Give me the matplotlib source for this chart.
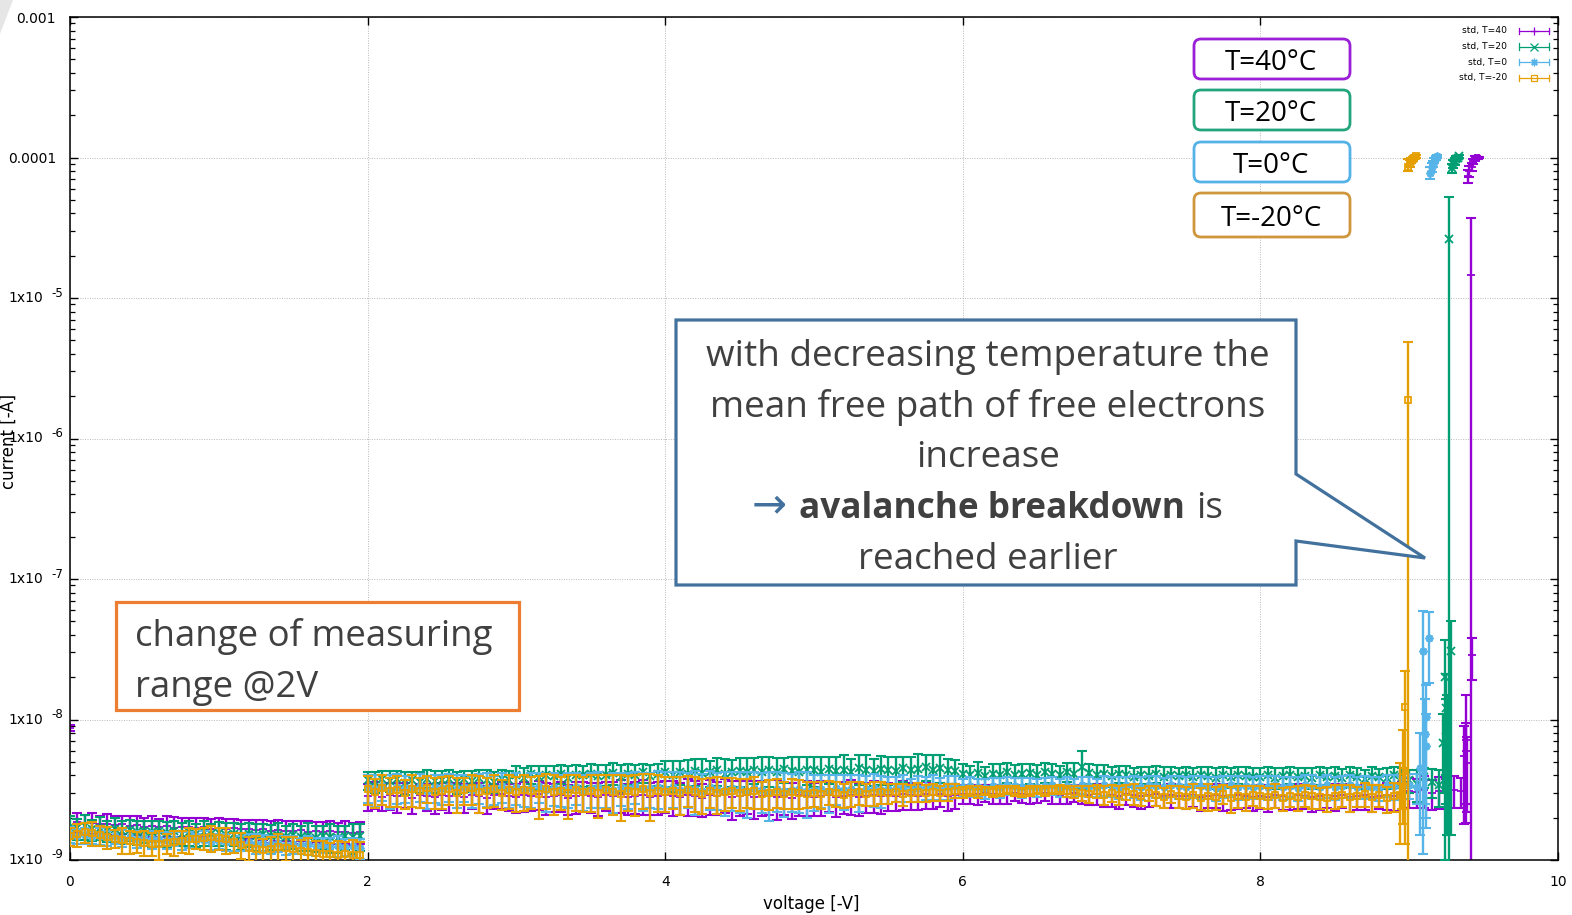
import numpy as np
import matplotlib
matplotlib.use("Agg")
import matplotlib.pyplot as plt
from matplotlib.patches import Polygon, FancyBboxPatch, Rectangle
from matplotlib.transforms import Affine2D, blended_transform_factory, offset_copy
from matplotlib.lines import Line2D
from matplotlib.ticker import FixedLocator, FixedFormatter, LogLocator, NullFormatter

# ---------------------------------------------------------------- data
VOLT_STEP = 0.05          # V, sampling of the plotted points
LOW_START = 0.0           # V, first range (0 - 2 V)
HIGH_START = 2.0          # V, second range (2 V - breakdown)
NANO = 1e-9

# ---- T = 40 C  (currents in nA, symmetric std errors in nA)
T40_LOW = [8.7, 1.86, 1.82, 1.84, 1.79, 1.81, 1.77, 1.80, 1.75, 1.78,
           1.73, 1.76, 1.71, 1.75, 1.70, 1.73, 1.71, 1.69, 1.72, 1.67,
           1.70, 1.66, 1.68, 1.65, 1.67, 1.63, 1.66, 1.61, 1.64, 1.62,
           1.60, 1.63, 1.59, 1.61, 1.58, 1.60, 1.57, 1.59, 1.56, 1.58]
T40_LOW_ERR = [0.4, 0.30, 0.28, 0.32, 0.27, 0.30, 0.29, 0.26, 0.31, 0.28,
               0.27, 0.30, 0.26, 0.29, 0.31, 0.27, 0.28, 0.30, 0.26, 0.29,
               0.28, 0.30, 0.27, 0.29, 0.26, 0.30, 0.27, 0.29, 0.28, 0.26,
               0.29, 0.27, 0.30, 0.26, 0.28, 0.29, 0.27, 0.30, 0.28, 0.29]
T40_HIGH = [2.85, 2.95, 2.8, 2.9, 2.85, 2.95, 2.75, 2.9, 2.85, 2.8,
            2.9, 2.85, 2.95, 2.8, 2.9, 2.85, 2.75, 2.9, 2.95, 2.85,
            2.8, 2.9, 2.85, 2.95, 2.8, 2.85, 2.9, 2.75, 2.85, 2.9,
            2.85, 2.8, 2.9, 2.85, 2.95, 2.8, 2.85, 2.9, 2.8, 2.85,
            2.9, 2.85, 2.8, 2.9, 2.85, 2.75, 2.9, 2.85, 2.95, 2.8,
            2.85, 2.9, 2.8, 2.85, 2.9, 2.8, 2.85, 2.75, 2.9, 2.85,
            2.8, 2.85, 2.9, 2.8, 2.85, 2.9, 2.8, 2.85, 2.9, 2.85,
            2.9, 2.85, 2.95, 2.9, 2.85, 2.95, 2.9, 2.95, 2.85, 2.9,
            2.95, 2.9, 2.95, 3.0, 2.95, 2.9, 2.95, 3.0, 2.95, 2.9,
            2.95, 3.0, 2.95, 2.9, 2.95, 3.0, 2.95, 2.9, 2.95, 2.85,
            2.9, 2.85, 2.95, 2.9, 2.85, 2.9, 2.95, 2.85, 2.9, 2.85,
            2.85, 2.9, 2.8, 2.85, 2.9, 2.85, 2.8, 2.9, 2.85, 2.8,
            2.85, 2.8, 2.9, 2.85, 2.8, 2.9, 2.85, 2.8, 2.85, 2.9,
            2.85, 2.9, 2.8, 2.85, 2.9, 2.8, 2.85, 2.9, 2.85, 2.95,
            3.1, 3.05, 3.15, 3.0, 3.1, 3.05, 3.15, 3.1]
T40_HIGH_ERR = [0.6, 0.65, 0.58, 0.62, 0.68, 0.6, 0.64, 0.56, 0.62, 0.66,
                0.62, 0.68, 0.6, 0.65, 0.58, 0.7, 0.63, 0.6, 0.66, 0.62,
                0.65, 0.7, 0.62, 0.68, 0.72, 0.64, 0.7, 0.66, 0.74, 0.68,
                0.7, 0.75, 0.68, 0.72, 0.78, 0.7, 0.74, 0.8, 0.72, 0.76,
                0.75, 0.8, 0.72, 0.85, 0.78, 0.74, 0.82, 0.76, 0.8, 0.86,
                0.8, 0.76, 0.85, 0.78, 0.82, 0.88, 0.75, 0.8, 0.84, 0.78,
                0.75, 0.8, 0.72, 0.78, 0.74, 0.8, 0.76, 0.7, 0.75, 0.72,
                0.65, 0.6, 0.68, 0.62, 0.58, 0.64, 0.6, 0.56, 0.62, 0.58,
                0.45, 0.4, 0.48, 0.42, 0.45, 0.4, 0.44, 0.38, 0.42, 0.4,
                0.42, 0.38, 0.45, 0.4, 0.43, 0.4, 0.46, 0.42, 0.5, 0.48,
                0.5, 0.55, 0.48, 0.52, 0.56, 0.5, 0.54, 0.5, 0.56, 0.52,
                0.55, 0.5, 0.58, 0.52, 0.56, 0.6, 0.54, 0.58, 0.52, 0.56,
                0.56, 0.6, 0.54, 0.58, 0.52, 0.6, 0.56, 0.62, 0.58, 0.54,
                0.6, 0.56, 0.62, 0.58, 0.64, 0.6, 0.56, 0.62, 0.6, 0.65,
                0.75, 0.7, 0.8, 0.72, 0.78, 0.74, 0.82, 0.76]
T40_BD_V = [9.370, 9.380, 9.385, 9.390, 9.415, 9.420, 9.395, 9.405, 9.420, 9.430, 9.440, 9.450, 9.460, 9.470]
T40_BD_I = [5.5e-9, 6.0e-9, 7.1e-9, 4.9e-9, 1.46e-5, 2.87e-8, 7.4e-5, 8.0e-5, 8.6e-5, 9.4e-5, 9.9e-5, 1.0e-4, 1.0e-4, 1.0e-4]
T40_BD_LO = [1.8e-9, 2.5e-9, 1.83e-9, 2.2e-9, 1e-12, 1.91e-8, 6.6e-5, 7.3e-5, 8.0e-5, 9.0e-5, 9.6e-5, 9.8e-5, 9.8e-5, 9.9e-5]
T40_BD_HI = [9.0e-9, 9.5e-9, 1.49e-8, 7.5e-9, 3.71e-5, 3.78e-8, 8.2e-5, 8.7e-5, 9.2e-5, 9.8e-5, 1.02e-4, 1.02e-4, 1.01e-4, 1.01e-4]

# ---- T = 20 C
T20_LOW = [1.72, 1.68, 1.74, 1.65, 1.70, 1.62, 1.67, 1.60, 1.64, 1.58,
           1.62, 1.57, 1.61, 1.55, 1.60, 1.54, 1.58, 1.52, 1.57, 1.53,
           1.55, 1.50, 1.54, 1.49, 1.53, 1.48, 1.52, 1.47, 1.51, 1.46,
           1.50, 1.45, 1.49, 1.44, 1.48, 1.46, 1.43, 1.47, 1.45, 1.48]
T20_LOW_ERR = [0.32, 0.29, 0.35, 0.28, 0.31, 0.27, 0.33, 0.30, 0.28, 0.31,
               0.29, 0.33, 0.27, 0.31, 0.30, 0.28, 0.32, 0.29, 0.31, 0.27,
               0.30, 0.33, 0.28, 0.31, 0.29, 0.32, 0.27, 0.30, 0.33, 0.28,
               0.31, 0.29, 0.34, 0.30, 0.28, 0.33, 0.31, 0.29, 0.35, 0.32]
T20_HIGH = [3.7, 3.6, 3.8, 3.65, 3.75, 3.55, 3.7, 3.6, 3.8, 3.65,
            3.7, 3.8, 3.6, 3.75, 3.65, 3.85, 3.7, 3.6, 3.8, 3.7,
            4.0, 3.85, 4.1, 3.9, 4.0, 3.95, 4.1, 3.85, 4.05, 4.0,
            4.1, 3.95, 4.05, 4.15, 3.9, 4.1, 4.0, 4.2, 3.95, 4.1,
            4.2, 4.05, 4.25, 4.1, 4.3, 4.15, 4.2, 4.35, 4.1, 4.25,
            4.3, 4.2, 4.4, 4.25, 4.35, 4.2, 4.45, 4.3, 4.25, 4.4,
            4.35, 4.25, 4.45, 4.3, 4.4, 4.2, 4.5, 4.35, 4.3, 4.45,
            4.4, 4.3, 4.5, 4.35, 4.45, 4.6, 4.4, 4.55, 4.35, 4.3,
            4.1, 4.0, 4.15, 3.95, 4.1, 4.05, 4.2, 4.0, 4.1, 4.15,
            4.05, 4.2, 4.1, 4.0, 4.25, 4.1, 4.6, 4.15, 4.0, 4.1,
            3.95, 4.1, 4.0, 3.9, 4.05, 3.95, 4.1, 3.9, 4.0, 3.95,
            4.0, 3.9, 4.05, 3.95, 3.85, 4.0, 3.9, 4.05, 3.95, 3.9,
            3.9, 4.0, 3.85, 3.95, 4.05, 3.9, 3.95, 3.85, 4.0, 3.9,
            3.95, 3.85, 4.0, 3.9, 3.8, 3.95, 3.9, 3.85, 4.0, 3.9,
            3.7, 3.5, 3.9, 3.6, 3.4]
T20_HIGH_ERR = [0.55, 0.6, 0.5, 0.62, 0.58, 0.65, 0.52, 0.6, 0.56, 0.63,
                0.6, 0.55, 0.66, 0.58, 0.62, 0.52, 0.64, 0.6, 0.57, 0.61,
                0.7, 0.65, 0.6, 0.75, 0.68, 0.72, 0.62, 0.78, 0.66, 0.7,
                0.72, 0.8, 0.68, 0.75, 0.85, 0.7, 0.78, 0.66, 0.82, 0.74,
                0.9, 1.0, 0.85, 1.05, 0.95, 1.1, 0.9, 1.0, 1.15, 0.92,
                1.0, 1.1, 0.95, 1.2, 1.05, 1.15, 0.9, 1.1, 1.2, 1.0,
                1.05, 1.15, 0.95, 1.1, 1.2, 1.0, 1.1, 1.25, 0.95, 1.05,
                1.0, 1.1, 0.9, 1.05, 1.2, 0.95, 1.15, 1.0, 0.9, 0.85,
                0.75, 0.7, 0.8, 0.65, 0.72, 0.78, 0.68, 0.74, 0.7, 0.66,
                0.72, 0.68, 0.75, 0.7, 0.65, 0.78, 1.4, 0.7, 0.74, 0.68,
                0.62, 0.58, 0.65, 0.6, 0.55, 0.63, 0.59, 0.66, 0.6, 0.57,
                0.6, 0.64, 0.56, 0.62, 0.66, 0.58, 0.63, 0.55, 0.61, 0.65,
                0.58, 0.62, 0.66, 0.6, 0.55, 0.63, 0.59, 0.64, 0.57, 0.61,
                0.63, 0.57, 0.6, 0.65, 0.58, 0.62, 0.56, 0.66, 0.6, 0.64,
                0.7, 0.9, 0.65, 0.85, 1.0]
T20_BD_V = [9.225, 9.240, 9.245, 9.250, 9.255, 9.270, 9.280, 9.285, 9.295, 9.305, 9.315, 9.325, 9.335]
T20_BD_I = [6.8e-9, 2.01e-8, 7.5e-9, 1.2e-8, 8.0e-9, 2.62e-5, 3.06e-8, 8.4e-5, 9.0e-5, 9.4e-5, 9.8e-5, 1.0e-4, 1.02e-4]
T20_BD_LO = [3.0e-9, 1.0e-9, 2.5e-9, 4.0e-9, 1.5e-9, 1e-12, 1.5e-9, 7.8e-5, 8.4e-5, 8.9e-5, 9.4e-5, 9.7e-5, 9.9e-5]
T20_BD_HI = [1.1e-8, 3.66e-8, 1.4e-8, 2.1e-8, 1.5e-8, 5.25e-5, 5.04e-8, 9.0e-5, 9.6e-5, 9.9e-5, 1.02e-4, 1.03e-4, 1.05e-4]

# ---- T = 0 C
T0_LOW = [1.52, 1.48, 1.50, 1.46, 1.49, 1.44, 1.47, 1.43, 1.45, 1.41,
          1.44, 1.40, 1.42, 1.38, 1.41, 1.37, 1.40, 1.36, 1.39, 1.35,
          1.37, 1.34, 1.36, 1.32, 1.35, 1.31, 1.33, 1.30, 1.32, 1.28,
          1.30, 1.27, 1.29, 1.25, 1.28, 1.24, 1.26, 1.23, 1.25, 1.22]
T0_LOW_ERR = [0.20, 0.17, 0.19, 0.16, 0.21, 0.18, 0.17, 0.20, 0.16, 0.19,
              0.18, 0.21, 0.17, 0.19, 0.16, 0.20, 0.18, 0.17, 0.21, 0.18,
              0.17, 0.19, 0.20, 0.16, 0.18, 0.21, 0.17, 0.19, 0.18, 0.20,
              0.19, 0.17, 0.20, 0.18, 0.16, 0.19, 0.21, 0.17, 0.18, 0.20]
T0_HIGH = [3.3, 3.2, 3.35, 3.15, 3.3, 3.25, 3.2, 3.35, 3.1, 3.3,
           3.25, 3.35, 3.2, 3.3, 3.15, 3.3, 3.25, 3.2, 3.35, 3.2,
           3.3, 3.2, 3.25, 3.35, 3.15, 3.3, 3.2, 3.25, 3.3, 3.15,
           3.25, 3.3, 3.2, 3.15, 3.3, 3.25, 3.35, 3.2, 3.25, 3.3,
           3.2, 3.3, 3.15, 3.25, 3.2, 3.1, 3.3, 3.2, 3.15, 3.25,
           3.2, 3.1, 3.25, 3.15, 3.05, 3.2, 3.1, 3.15, 3.2, 3.1,
           3.15, 3.2, 3.1, 3.25, 3.15, 3.2, 3.1, 3.2, 3.25, 3.15,
           3.2, 3.25, 3.3, 3.2, 3.25, 3.3, 3.35, 3.25, 3.3, 3.35,
           3.3, 3.35, 3.3, 3.25, 3.35, 3.3, 3.4, 3.35, 3.3, 3.35,
           3.3, 3.35, 3.4, 3.3, 3.35, 3.3, 3.4, 3.35, 3.3, 3.4,
           3.35, 3.3, 3.4, 3.35, 3.3, 3.4, 3.35, 3.3, 3.4, 3.35,
           3.3, 3.4, 3.35, 3.3, 3.25, 3.35, 3.4, 3.3, 3.35, 3.3,
           3.35, 3.3, 3.4, 3.3, 3.35, 3.25, 3.4, 3.35, 3.3, 3.4,
           3.3, 3.35, 3.4, 3.3, 3.35, 3.3, 3.25, 3.4, 3.35, 3.3,
           3.4, 3.3]
T0_HIGH_ERR = [0.75, 0.8, 0.7, 0.85, 0.78, 0.72, 0.82, 0.76, 0.8, 0.74,
               0.8, 0.76, 0.85, 0.72, 0.82, 0.78, 0.88, 0.75, 0.8, 0.84,
               0.85, 0.8, 0.9, 0.82, 0.95, 0.86, 0.8, 0.92, 0.84, 0.9,
               0.9, 0.95, 0.85, 1.0, 0.88, 0.94, 0.86, 0.98, 0.9, 1.0,
               1.0, 0.95, 1.05, 0.9, 1.1, 0.98, 1.02, 0.94, 1.08, 1.0,
               1.05, 1.1, 0.95, 1.0, 1.15, 1.02, 1.08, 0.96, 1.04, 1.1,
               0.9, 0.85, 0.95, 0.8, 0.88, 0.82, 0.9, 0.78, 0.85, 0.8,
               0.7, 0.65, 0.72, 0.6, 0.68, 0.62, 0.66, 0.58, 0.64, 0.6,
               0.5, 0.55, 0.48, 0.52, 0.46, 0.55, 0.5, 0.48, 0.53, 0.5,
               0.5, 0.46, 0.52, 0.48, 0.55, 0.5, 0.47, 0.53, 0.5, 0.56,
               0.55, 0.6, 0.52, 0.58, 0.62, 0.56, 0.6, 0.54, 0.58, 0.62,
               0.6, 0.56, 0.62, 0.58, 0.64, 0.6, 0.57, 0.63, 0.6, 0.58,
               0.6, 0.64, 0.58, 0.62, 0.56, 0.63, 0.6, 0.65, 0.58, 0.62,
               0.62, 0.58, 0.65, 0.6, 0.64, 0.57, 0.63, 0.6, 0.66, 0.6,
               0.7, 0.8]
T0_BD_V = [9.070, 9.095, 9.105, 9.110, 9.115, 9.135, 9.140, 9.150, 9.160, 9.170, 9.180, 9.190]
T0_BD_I = [4.5e-9, 3.06e-8, 7.9e-9, 1.04e-8, 6.5e-9, 3.8e-8, 7.8e-5, 8.5e-5, 9.0e-5, 9.5e-5, 9.9e-5, 1.02e-4]
T0_BD_LO = [1.5e-9, 1.1e-9, 2.5e-9, 1.7e-9, 2.0e-9, 1.82e-8, 7.0e-5, 7.9e-5, 8.5e-5, 9.1e-5, 9.6e-5, 9.9e-5]
T0_BD_HI = [8.0e-9, 5.9e-8, 1.4e-8, 1.76e-8, 1.1e-8, 5.8e-8, 8.5e-5, 9.1e-5, 9.5e-5, 9.9e-5, 1.02e-4, 1.05e-4]

# ---- T = -20 C
TM20_LOW = [1.48, 1.52, 1.58, 1.55, 1.50, 1.46, 1.42, 1.39, 1.36, 1.35,
            1.33, 1.31, 1.30, 1.32, 1.34, 1.37, 1.40, 1.42, 1.44, 1.45,
            1.43, 1.40, 1.34, 1.28, 1.22, 1.19, 1.17, 1.20, 1.24, 1.22,
            1.19, 1.16, 1.14, 1.12, 1.10, 1.11, 1.09, 1.10, 1.08, 1.09]
TM20_LOW_ERR = [0.22, 0.28, 0.25, 0.30, 0.24, 0.27, 0.21, 0.29, 0.26, 0.23,
                0.27, 0.24, 0.30, 0.22, 0.28, 0.25, 0.29, 0.23, 0.26, 0.31,
                0.25, 0.29, 0.22, 0.27, 0.24, 0.30, 0.23, 0.26, 0.28, 0.24,
                0.26, 0.23, 0.29, 0.25, 0.27, 0.22, 0.28, 0.24, 0.30, 0.25]
TM20_HIGH = [3.2, 3.05, 3.25, 3.1, 3.15, 3.0, 3.2, 3.1, 3.25, 3.05,
             3.1, 3.2, 3.0, 3.15, 3.25, 3.05, 3.1, 3.2, 3.0, 3.15,
             3.05, 3.15, 3.1, 2.95, 3.2, 3.05, 3.1, 3.0, 3.15, 3.05,
             3.1, 3.0, 3.15, 3.05, 2.95, 3.1, 3.05, 3.2, 3.0, 3.1,
             3.05, 3.1, 3.0, 3.15, 3.05, 2.95, 3.1, 3.0, 3.05, 3.1,
             3.0, 3.05, 3.1, 2.95, 3.0, 3.05, 2.95, 3.05, 3.0, 2.95,
             3.0, 2.95, 3.05, 3.0, 2.9, 3.0, 3.05, 2.95, 3.0, 3.05,
             3.0, 3.05, 2.95, 3.0, 3.05, 3.0, 3.05, 3.0, 3.05, 3.1,
             3.05, 3.1, 3.05, 3.1, 3.05, 3.1, 3.15, 3.1, 3.05, 3.1,
             3.15, 3.1, 3.15, 3.2, 3.1, 3.05, 3.0, 2.95, 3.1, 2.9,
             3.0, 2.9, 3.05, 2.95, 2.85, 3.0, 2.9, 2.8, 2.95, 2.85,
             2.8, 2.9, 2.75, 2.85, 2.8, 2.95, 2.75, 2.85, 2.8, 2.9,
             2.85, 2.8, 2.9, 2.75, 2.85, 2.8, 2.9, 2.85, 2.8, 2.75,
             2.85, 2.9, 2.8, 2.85, 2.95, 2.8, 2.9, 2.75, 2.85, 2.9]
TM20_HIGH_ERR = [0.75, 0.7, 0.8, 0.72, 0.78, 0.68, 0.82, 0.74, 0.7, 0.76,
                 0.8, 0.74, 0.85, 0.7, 0.78, 0.9, 0.75, 0.82, 0.72, 0.86,
                 0.85, 0.9, 0.8, 1.0, 0.88, 0.95, 0.82, 1.05, 0.9, 0.86,
                 0.9, 1.0, 0.85, 0.95, 1.05, 0.88, 0.98, 0.9, 1.1, 0.92,
                 0.85, 0.8, 0.9, 0.78, 0.86, 0.82, 0.75, 0.88, 0.8, 0.76,
                 0.75, 0.7, 0.78, 0.66, 0.72, 0.7, 0.65, 0.74, 0.68, 0.62,
                 0.6, 0.65, 0.58, 0.62, 0.55, 0.6, 0.57, 0.52, 0.58, 0.54,
                 0.5, 0.45, 0.52, 0.42, 0.48, 0.4, 0.44, 0.38, 0.4, 0.35,
                 0.28, 0.25, 0.3, 0.22, 0.26, 0.24, 0.2, 0.25, 0.22, 0.24,
                 0.22, 0.25, 0.2, 0.24, 0.28, 0.3, 0.35, 0.4, 0.32, 0.45,
                 0.4, 0.45, 0.38, 0.5, 0.42, 0.36, 0.48, 0.44, 0.4, 0.5,
                 0.5, 0.55, 0.48, 0.6, 0.52, 0.45, 0.58, 0.5, 0.55, 0.48,
                 0.52, 0.48, 0.55, 0.5, 0.45, 0.58, 0.5, 0.54, 0.48, 0.56,
                 0.55, 0.5, 0.6, 0.48, 0.56, 0.62, 0.5, 0.58, 0.66, 0.6]
TM20_BD_V = [8.940, 8.960, 8.975, 8.990, 8.995, 9.005, 9.015, 9.025, 9.035, 9.045]
TM20_BD_I = [2.9e-9, 4.3e-9, 1.23e-8, 1.88e-6, 8.6e-5, 9.0e-5, 9.5e-5, 9.8e-5, 1.0e-4, 1.03e-4]
TM20_BD_LO = [1.3e-9, 1.8e-9, 1.3e-9, 1e-12, 8.0e-5, 8.5e-5, 9.1e-5, 9.5e-5, 9.8e-5, 1.0e-4]
TM20_BD_HI = [4.9e-9, 8.4e-9, 2.2e-8, 4.9e-6, 9.7e-5, 9.6e-5, 9.9e-5, 1.01e-4, 1.03e-4, 1.05e-4]

SERIES_LABELS = ["std, T=40", "std, T=20", "std, T=0", "std, T=-20"]
BOX_LABELS = ["T=40°C", "T=20°C", "T=0°C", "T=-20°C"]

X_TICKS = [0, 2, 4, 6, 8, 10]
Y_TICKS = [1e-9, 1e-8, 1e-7, 1e-6, 1e-5, 1e-4, 1e-3]
Y_TICK_LABELS = ["", "", "", "", "", "0.0001", "0.001"]
Y_POW_TICKS = [1e-9, 1e-8, 1e-7, 1e-6, 1e-5]
Y_POW_MANT = "1x10"
Y_POW_EXP = ["-9", "-8", "-7", "-6", "-5"]
CALLOUT_LINES = ["with decreasing temperature the",
                 "mean free path of free electrons",
                 "increase"]
CALLOUT_LAST = "reached earlier"

# ---------------------------------------------------------------- figure
W, H = 1572, 915
DPI = 100
fig = plt.figure(figsize=(W / DPI, H / DPI), dpi=DPI)
fig.patch.set_facecolor("white")
PIX = Affine2D().scale(1.0 / W, 1.0 / H) + fig.transFigure


def P(x, y_top):
    return (x, H - y_top)


ax = fig.add_axes([70 / W, 1 - 860 / H, (1558 - 70) / W, (860 - 17) / H])

COLORS = ["#9400D3", "#009E73", "#56B4E9", "#E69F00"]
MARKERS = ["+", "x", (8, 2, 0), "s"]

series = [
    (T40_LOW, T40_LOW_ERR, T40_HIGH, T40_HIGH_ERR, T40_BD_V, T40_BD_I, T40_BD_LO, T40_BD_HI),
    (T20_LOW, T20_LOW_ERR, T20_HIGH, T20_HIGH_ERR, T20_BD_V, T20_BD_I, T20_BD_LO, T20_BD_HI),
    (T0_LOW, T0_LOW_ERR, T0_HIGH, T0_HIGH_ERR, T0_BD_V, T0_BD_I, T0_BD_LO, T0_BD_HI),
    (TM20_LOW, TM20_LOW_ERR, TM20_HIGH, TM20_HIGH_ERR, TM20_BD_V, TM20_BD_I, TM20_BD_LO, TM20_BD_HI),
]

for k, (lo_v, lo_e, hi_v, hi_e, bv, bi, blo, bhi) in enumerate(series):
    c = COLORS[k]
    m = MARKERS[k]
    mfc = "none" if m == "s" else c
    ms = 4.8 if m == "s" else 5.8
    xa = LOW_START + VOLT_STEP * np.arange(len(lo_v))
    xb = HIGH_START + VOLT_STEP * np.arange(len(hi_v))
    x = np.concatenate([xa, xb])
    y = np.concatenate([lo_v, hi_v]) * NANO
    e = np.concatenate([lo_e, hi_e]) * NANO
    kw = dict(fmt="none", ecolor=c, elinewidth=1.7, capsize=3.8, capthick=1.5, zorder=2 + k)
    ax.errorbar(x, y, yerr=e, **kw)
    ax.plot(x, y, linestyle="none", marker=m, ms=ms, mec=c, mfc=mfc, mew=1.3, zorder=2 + k)
    bv = np.array(bv); bi = np.array(bi); blo = np.array(blo); bhi = np.array(bhi)
    ax.errorbar(bv, bi, yerr=[bi - blo, bhi - bi], **kw)
    ax.plot(bv, bi, linestyle="none", marker=m, ms=ms, mec=c, mfc=mfc, mew=1.3, zorder=2 + k)

ax.set_yscale("log")
ax.set_xlim(0, 10)
ax.set_ylim(1e-9, 1e-3)
ax.xaxis.set_major_locator(FixedLocator(X_TICKS))
ax.yaxis.set_major_locator(FixedLocator(Y_TICKS))
ax.yaxis.set_major_formatter(FixedFormatter(Y_TICK_LABELS))
ax.yaxis.set_minor_locator(LogLocator(base=10, subs=np.arange(2, 10)))
ax.yaxis.set_minor_formatter(NullFormatter())
ax.tick_params(which="both", direction="in", top=True, right=True, color="black")
ax.tick_params(which="major", length=6, width=1.0, labelsize=10)
ax.tick_params(which="minor", length=3.5, width=0.9)
ax.tick_params(axis="x", pad=10.5)
ax.tick_params(axis="y", pad=10)
ax.grid(True, which="major", color="#b8b8b8", linestyle=(0, (1, 1.5)), linewidth=0.7)
ax.set_axisbelow(True)
for s in ax.spines.values():
    s.set_linewidth(1.1)
ax.set_xlabel("voltage [-V]", fontsize=12)
ax.set_ylabel("current [-A]", fontsize=12)
ax.xaxis.set_label_coords((811 - 70) / 1488, (860 - 895) / 843)
ax.yaxis.set_label_coords((18 - 70) / 1488, (860 - 441) / 843)

# gnuplot-style power-of-ten tick labels ("1x10" with a raised exponent)
ytr = blended_transform_factory(PIX, ax.transData)
ytr_up = offset_copy(ytr, fig=fig, x=0, y=5, units="dots")
for yv, ex in zip(Y_POW_TICKS, Y_POW_EXP):
    ax.text(43, yv, Y_POW_MANT, transform=ytr, ha="right", va="center", fontsize=10,
            clip_on=False)
    ax.text(51, yv, ex, transform=ytr_up, ha="left", va="center", fontsize=8.5,
            clip_on=False)

# ---------------------------------------------------------------- gnuplot key
for i, lab in enumerate(SERIES_LABELS):
    yk = 31 + 15.6 * i
    fig.text(1507 / W, 1 - yk / H, lab, ha="right", va="center", fontsize=6.6)
    c = COLORS[i]
    fig.add_artist(Line2D([1519, 1549], [H - yk, H - yk], color=c, lw=0.9, transform=PIX))
    for xc in (1519, 1549):
        fig.add_artist(Line2D([xc, xc], [H - yk - 3.2, H - yk + 3.2], color=c, lw=0.9, transform=PIX))
    m = MARKERS[i]
    fig.add_artist(Line2D([1534], [H - yk], marker=m, ms=4.5 if m == "s" else 5.5, mec=c,
                          mfc="none" if m == "s" else c, mew=0.9, linestyle="none", transform=PIX))

# ---------------------------------------------------------------- annotations
SANS = ["Open Sans", "DejaVu Sans"]
renderer = fig.canvas.get_renderer()


def fit(t, target):
    w = t.get_window_extent(renderer).width
    t.set_fontsize(t.get_fontsize() * target / w)
    return t.get_fontsize()


# faint wedge in the corner of the slide
fig.add_artist(Polygon([P(0, 0), P(13, 0), P(0, 34)], closed=True, fc="#e6e6e6", ec="none",
                       transform=PIX))

# temperature boxes
BOX_COLORS = ["#9A1FD6", "#22A57B", "#55B2E6", "#D0963B"]
BOX_Y = [(39, 79), (90, 130), (142, 182), (193, 237)]
box_fs = None
for i, lab in enumerate(BOX_LABELS):
    y0, y1 = BOX_Y[i]
    fig.add_artist(FancyBboxPatch((1194, H - y1), 1350 - 1194, y1 - y0,
                                  boxstyle="round,pad=0,rounding_size=7",
                                  fc="white", ec=BOX_COLORS[i], lw=2.0, transform=PIX))
    yc = (y0 + y1) / 2
    t = fig.text(1271 / W, 1 - (yc + 11) / H, lab, ha="center", va="baseline",
                 fontsize=20, family=SANS, color="black")
    if box_fs is None:
        box_fs = fit(t, 92)
    else:
        t.set_fontsize(box_fs)

# orange box
fig.add_artist(Rectangle(P(116, 710), 519 - 116, 710 - 602, fc="white", ec="#ED7D31", lw=2.3,
                         transform=PIX))
t1 = fig.text(135 / W, 1 - 646 / H, "change of measuring", ha="left", va="baseline",
              fontsize=26, family=SANS, color="#404040")
ofs = fit(t1, 358)
fig.text(135 / W, 1 - 697 / H, "range @2V", ha="left", va="baseline",
         fontsize=ofs, family=SANS, color="#404040")

# callout
CALL_C = "#41719C"
fig.add_artist(Polygon([P(676, 320), P(1296, 320), P(1296, 474), P(1425, 558), P(1296, 541),
                        P(1296, 585), P(676, 585)], closed=True, fc="white", ec=CALL_C,
                       lw=2.3, transform=PIX, joinstyle="miter"))
baselines = [366, 417, 467, 518, 569]
cfs = None
for i, s in enumerate(CALLOUT_LINES):
    t = fig.text(988 / W, 1 - baselines[i] / H, s, ha="center", va="baseline",
                 fontsize=26, family=SANS, color="#404040")
    if cfs is None:
        cfs = fit(t, 566)
    else:
        t.set_fontsize(cfs)
ta = fig.text(752 / W, 1 - (baselines[3] - 1) / H, "→", ha="left", va="baseline", fontsize=cfs,
              family=["DejaVu Sans"], color=CALL_C)
fit(ta, 35)
tb = fig.text(799 / W, 1 - baselines[3] / H, "avalanche breakdown", ha="left", va="baseline",
              fontsize=cfs, family=SANS, color="#404040", fontweight="bold")
bfs = fit(tb, 384)
fig.text(1196 / W, 1 - baselines[3] / H, "is", ha="left", va="baseline", fontsize=cfs,
         family=SANS, color="#404040")
fig.text(988 / W, 1 - baselines[4] / H, CALLOUT_LAST, ha="center", va="baseline",
         fontsize=cfs, family=SANS, color="#404040")

fig.savefig("out.png", dpi=DPI, facecolor="white")
